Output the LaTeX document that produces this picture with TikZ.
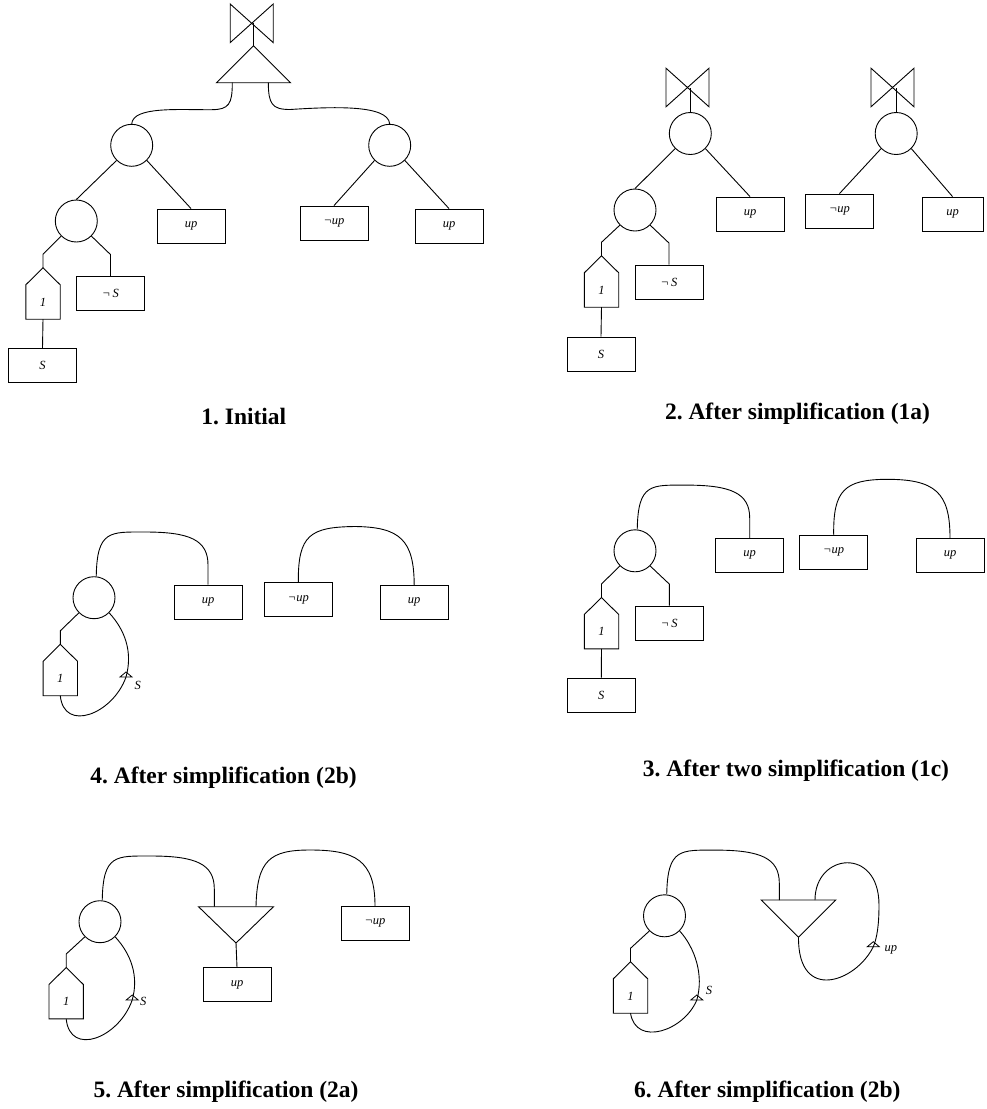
\documentclass[tikz,border=0pt]{standalone}
\usepackage{fontspec}
\setmainfont{Liberation Serif}
\usetikzlibrary{calc}
\frenchspacing
\newcommand\mylbl{\fontsize{12.5}{14}\selectfont\itshape}
\newcommand\myttl{\fontsize{23.5}{28}\selectfont\bfseries}
\tikzset{
  wire/.style={line width=0.9pt},
  circ/.style={circle, draw, line width=0.9pt, minimum size=42pt, inner sep=0pt},
  lit/.style={rectangle, draw, line width=0.9pt, minimum width=68pt, minimum height=34pt, inner sep=0pt, font=\mylbl},
  housebody/.style={rectangle, minimum width=34pt, minimum height=34pt, inner sep=0pt, font=\mylbl},
  ttl/.style={font=\myttl, anchor=base, inner sep=0pt},
  lab/.style={font=\mylbl, inner sep=0pt},
  marker/.style={line width=0.8pt}
}
\newcommand\myhouse[3]{%
  \node[housebody] (#1) at (#2) {#3};
  \coordinate (#1t) at ([yshift=17pt]#1.north);
  \draw[wire] (#1.south west) -- (#1.north west) -- (#1t) -- (#1.north east) -- (#1.south east) -- cycle;}
\newcommand\mybowtie[1]{\draw[wire] ($(#1)+(-21.5,-19.3)$) -- ++(43,38.6) -- ++(0,-38.6) -- ++(-43,38.6) -- cycle;}
\newcommand\mymark[1]{\draw[marker] ($(#1)+(-6,0)$) -- ($(#1)+(6,0)$) -- ($(#1)+(0,-5)$) -- cycle;}
\begin{document}
\begin{tikzpicture}[x=1pt,y=-1pt]
\useasboundingbox (0,0) rectangle (987,1109);

% ---------- Panel 1 ----------
\coordinate (bt1) at (251.7,23.3);
\mybowtie{bt1}
\coordinate (T1) at (253.5,45.7);
\draw[wire] (T1) -- ++(37,37) -- ++(-74,0) -- cycle;
\coordinate (T1L) at (232.3,82.7);
\coordinate (T1R) at (268.3,82.7);
\draw[wire] (T1) -- (T1 |- bt1);
\node[circ] (A) at (131.7,145.3) {};
\node[circ] (B) at (389.7,145.3) {};
\node[circ] (C) at (76.3,221) {};
\node[lit] (U1) at (191,226) {up};
\node[lit] (NU1) at (334,223) {¬up};
\node[lit] (U2) at (449,226) {up};
\myhouse{H1}{43,302}{1}
\node[lit] (NS1) at (110.5,293.5) {¬\,S};
\node[lit] (S1) at (42.5,365.5) {S};
\draw[wire] (T1L) .. controls (232.3,104) and (229,109.5) .. (212,109.7) .. controls (180,110) and (133,106) .. (A.north);
\draw[wire] (T1R) .. controls (268.5,104) and (272,109.5) .. (290,109.5) .. controls (330,107) and (388,104) .. (B.north);
\draw[wire] (A.225) -- (C.north);
\draw[wire] (A.-45) -- (U1.north);
\draw[wire] (B.225) -- (NU1.north);
\draw[wire] (B.-45) -- (U2.north);
\draw[wire] (C.225) -- ($(H1t)+(0,-13.5)$) -- (H1t);
\draw[wire] (C.-45) -- ($(NS1.north)+(0,-21.5)$) -- (NS1.north);
\draw[wire] (H1.south) -- (S1.north);
\node[ttl] (t1) at (243.8,424.3) {1. Initial};

% ---------- Panel 2 ----------
\coordinate (bt2) at (687.5,87.5);
\mybowtie{bt2}
\node[circ] (D) at (690.3,133.5) {};
\draw[wire] (D.north) -- (D.north |- bt2);
\node[circ] (E) at (635,210) {};
\node[lit] (U3) at (750,214) {up};
\myhouse{H2}{601.5,290}{1}
\node[lit] (NS2) at (669,282) {¬\,S};
\node[lit] (S2) at (601,354) {S};
\draw[wire] (D.225) -- (E.north);
\draw[wire] (D.-45) -- (U3.north);
\draw[wire] (E.225) -- ($(H2t)+(0,-13.5)$) -- (H2t);
\draw[wire] (E.-45) -- ($(NS2.north)+(0,-21.5)$) -- (NS2.north);
\draw[wire] (H2.south) -- (S2.north);
\coordinate (bt3) at (892.5,87.5);
\mybowtie{bt3}
\node[circ] (F) at (896.2,133.5) {};
\draw[wire] (F.north) -- (F.north |- bt3);
\node[lit] (NU2) at (839.5,211) {¬up};
\node[lit, minimum width=61pt] (U4) at (952.5,214) {up};
\draw[wire] (F.225) -- (NU2.north);
\draw[wire] (F.-45) -- (U4.north);
\node[ttl] (t2) at (797.5,419.5) {2. After simplification (1a)};

% ---------- Panel 4 ----------
\node[circ] (G) at (94,597.7) {};
\node[lit] (U5) at (208,602) {up};
\node[lit] (NU3) at (298.3,599.5) {¬up};
\node[lit] (U6) at (414.2,602.3) {up};
\myhouse{H3}{60.3,678.5}{1}
\draw[wire] (G.84) .. controls (97,530) and (110,532) .. (145,532) .. controls (190,532) and (208,540) .. (208,565) -- (U5.north);
\draw[wire] (NU3.north) .. controls (298,535) and (310,527) .. (355,526.5) .. controls (400,527) and (414,540) .. (U6.north);
\draw[wire] (G.225) -- ($(H3t)+(0,-13.5)$) -- (H3t);
\coordinate (m4) at (126,677);
\draw[wire] (G.-45) .. controls (125,630) and (133,652) .. (m4) .. controls (113,714) and (64,733) .. (H3.south);
\mymark{m4}
\node[lab] (s4) at (137.7,685) {S};
\node[ttl] (t4) at (223.5,783) {4. After simplification (2b)};

% ---------- Panel 3 ----------
\node[circ] (Hc) at (635,550.8) {};
\node[lit] (U7) at (749.7,555.3) {up};
\node[lit] (NU4) at (833.7,552.3) {¬up};
\node[lit] (U8) at (950,555.3) {up};
\myhouse{H4}{601.5,631.7}{1}
\node[lit] (NS3) at (669.3,623) {¬\,S};
\node[lit] (S3) at (601.3,695) {S};
\draw[wire] (Hc.84) .. controls (638,483.1) and (651,485.1) .. (686,485.1) .. controls (731,485.1) and (749.7,493.1) .. (749.7,518.1) -- (U7.north);
\draw[wire] (NU4.north) .. controls (833,490) and (845,480) .. (885,479.3) .. controls (935,479) and (950,492) .. (U8.north);
\draw[wire] (Hc.225) -- ($(H4t)+(0,-13.5)$) -- (H4t);
\draw[wire] (Hc.-45) -- ($(NS3.north)+(0,-21.5)$) -- (NS3.north);
\draw[wire] (H4.south) -- (S3.north);
\node[ttl] (t3) at (796,776) {3. After two simplification (1c)};

% ---------- Panel 5 ----------
\node[circ] (I) at (100,921.7) {};
\coordinate (T2) at (236,943);
\draw[wire] (T2) -- ++(37.5,-36.3) -- ++(-75,0) -- cycle;
\coordinate (T2L) at (214.3,906.7);
\coordinate (T2R) at (256,906.7);
\node[lit] (U9) at (237,984.7) {up};
\node[lit] (NU5) at (375,923.3) {¬up};
\myhouse{H5}{66.2,1001.7}{1}
\draw[wire] (I.84) .. controls (103,854) and (116,856) .. (151,856) .. controls (196,856) and (214.3,864) .. (214.3,889) -- (T2L);
\draw[wire] (T2R) .. controls (257,860) and (270,850) .. (310,850) .. controls (355,850) and (375,860) .. (NU5.north);
\draw[wire] (T2) -- (U9.north);
\draw[wire] (I.225) -- ($(H5t)+(0,-13.5)$) -- (H5t);
\coordinate (m5) at (132.2,1000);
\draw[wire] (I.-45) .. controls (131,954) and (139,976) .. (m5) .. controls (119,1038) and (70,1057) .. (H5.south);
\mymark{m5}
\node[lab] (s5) at (143.3,1001.7) {S};
\node[ttl] (t5) at (226,1097.5) {5. After simplification (2a)};

% ---------- Panel 6 ----------
\node[circ] (J) at (664.5,915.8) {};
\coordinate (T3) at (798.5,937.3);
\draw[wire] (T3) -- ++(37.3,-37.3) -- ++(-74.6,0) -- cycle;
\coordinate (T3L) at (779.3,900);
\coordinate (T3R) at (815,900);
\myhouse{H6}{630.5,996}{1}
\draw[wire] (J.84) .. controls (667.5,848.1) and (680.5,850.1) .. (715.5,850.1) .. controls (760.5,850.1) and (779.3,858.1) .. (779.3,883.1) -- (T3L);
\coordinate (m6b) at (873.3,946.7);
\draw[wire] (T3R) .. controls (815,853) and (879,846) .. (879,905) .. controls (879,925) and (877,938) .. (m6b) .. controls (856,982) and (798,1003) .. (T3);
\mymark{m6b}
\node[lab] (up6) at (890.8,949.5) {up};
\draw[wire] (J.225) -- ($(H6t)+(0,-13.5)$) -- (H6t);
\coordinate (m6a) at (696.8,1000);
\draw[wire] (J.-45) .. controls (695,948) and (704,975) .. (m6a) .. controls (684,1031) and (636,1047) .. (H6.south);
\mymark{m6a}
\node[lab] (s6) at (709,990) {S};
\node[ttl] (t6) at (767.3,1097.5) {6. After simplification (2b)};
\end{tikzpicture}
\end{document}
